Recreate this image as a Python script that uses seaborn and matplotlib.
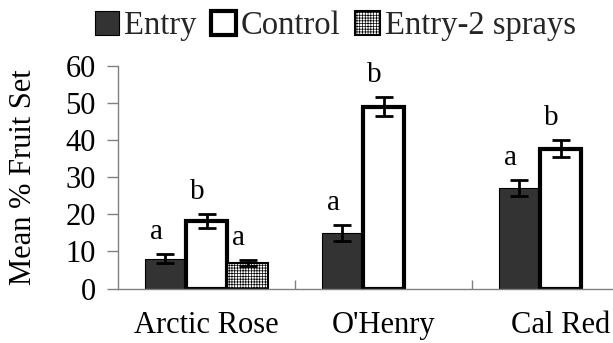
import matplotlib
matplotlib.use("Agg")
import matplotlib.pyplot as plt
import numpy as np
import pandas as pd
import seaborn as sns

# ---- data ----
cultivars = ["Arctic Rose", "O'Henry", "Cal Red"]
treatments = ["Entry", "Control", "Entry-2 sprays"]
entry_mean = [8.0, 15.0, 27.0]
entry_err = [1.2, 2.1, 2.2]
control_mean = [18.1, 49.0, 37.7]
control_err = [1.9, 2.6, 2.3]
entry2_mean = [6.9, None, None]
entry2_err = [0.9, None, None]
entry_letters = ["a", "a", "a"]
control_letters = ["b", "b", "b"]
entry2_letters = ["a", None, None]
y_ticks = [0, 10, 20, 30, 40, 50, 60]

means = {"Entry": entry_mean, "Control": control_mean, "Entry-2 sprays": entry2_mean}
errs = {"Entry": entry_err, "Control": control_err, "Entry-2 sprays": entry2_err}
letters = {"Entry": entry_letters, "Control": control_letters, "Entry-2 sprays": entry2_letters}

rows = []
for t in treatments:
    for c, v in zip(cultivars, means[t]):
        if v is not None:
            rows.append({"cultivar": c, "treatment": t, "value": v})
df = pd.DataFrame(rows)

sns.set_theme(style="white")
plt.rcParams["font.family"] = ["Liberation Serif", "DejaVu Serif"]
plt.rcParams["hatch.linewidth"] = 0.5

fig = plt.figure(figsize=(6.13, 3.43), dpi=100)
ax = fig.add_axes([118 / 613, 54.5 / 343, 531 / 613, 222.8 / 343])

sns.barplot(data=df, x="cultivar", y="value", hue="treatment",
            order=cultivars, hue_order=treatments, errorbar=None,
            width=0.7, dodge=True, ax=ax, legend=False,
            palette=["#333333", "white", "white"], saturation=1)

styles = {
    "Entry": dict(facecolor="#333333", edgecolor="black", linewidth=0.8, hatch=None),
    "Control": dict(facecolor="white", edgecolor="black", linewidth=3.0, hatch=None),
    "Entry-2 sprays": dict(facecolor="white", edgecolor="black", linewidth=1.5, hatch="++++++"),
}

bar_containers = list(ax.containers)
for cont, t in zip(bar_containers, treatments):
    for p in cont:
        st = styles[t]
        p.set_facecolor(st["facecolor"])
        p.set_edgecolor(st["edgecolor"])
        p.set_linewidth(st["linewidth"])
        if st["hatch"]:
            p.set_hatch(st["hatch"])
        cx = p.get_x() + p.get_width() / 2
        i = int(round(cx))
        v = means[t][i]
        e = errs[t][i]
        ax.errorbar(cx, v, yerr=e, fmt="none", ecolor="black", elinewidth=2.0,
                    capsize=6.8, capthick=2.0, zorder=5)
        lt = letters[t][i]
        if lt:
            ax.text(cx - 0.05, v + e + 4.0, lt, ha="center", va="baseline",
                    fontsize=21, color="black")

ax.set_ylim(0, 60)
ax.set_yticks(y_ticks)
ax.set_xlim(-0.5, 2.5)
ax.set_xticks(range(len(cultivars)))
ax.set_xticklabels(cultivars)
ax.set_xticks([0.5, 1.5], minor=True)
ax.tick_params(axis="y", direction="out", length=8, width=1, color="#808080",
               pad=8, labelsize=22, left=True, labelcolor="black")
ax.tick_params(axis="x", which="major", length=0, pad=16, labelsize=22,
               labelcolor="black")
ax.tick_params(axis="x", which="minor", direction="in", length=6.5, width=1,
               color="#808080", bottom=True)

for s in ["top", "right"]:
    ax.spines[s].set_visible(False)
for s in ["left", "bottom"]:
    ax.spines[s].set_color("#808080")
    ax.spines[s].set_linewidth(1.0)

ax.set_xlabel("")
ax.set_ylabel("Mean % Fruit Set", fontsize=22, color="black")
ax.yaxis.set_label_coords((38 - 118) / 531, 0.5)

handles = [cont[0] for cont in bar_containers]
fig.legend(handles, treatments, loc="center", bbox_to_anchor=(0.547, 0.925),
           ncol=3, frameon=False, fontsize=23.5, handlelength=0.75,
           handleheight=0.75, handletextpad=0.15, columnspacing=0.45,
           borderpad=0, borderaxespad=0)

fig.savefig("out.png", dpi=100)
